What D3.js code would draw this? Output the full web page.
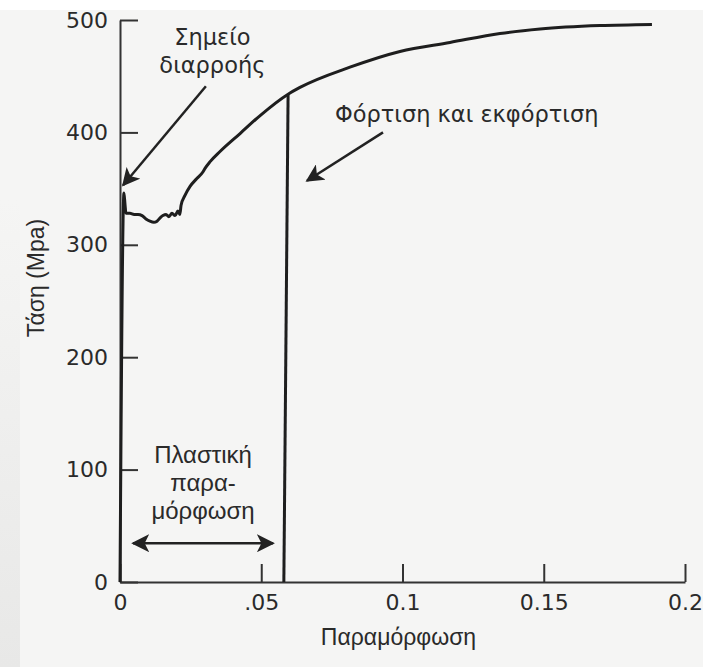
<!DOCTYPE html>
<meta charset="utf-8">
<style>
body {
  margin: 0;
  background-color: #f5f5f4;
}
svg text {
  font-family: "Liberation Sans", Arial, sans-serif;
  fill: #2a2a2a;
}
svg text.wide {
  font-family: "DejaVu Sans", sans-serif;
}
</style>
<body>
<div id="chart"></div>
<script src="https://cdn.jsdelivr.net/npm/d3@7"></script>
<script>

// stress-strain curve
var strain = [0, 0.0014, 0.0018, 0.0021, 0.0035, 0.005, 0.0064, 0.0078, 0.0092, 0.0106, 0.012,
              0.0131, 0.0142, 0.0152, 0.0163, 0.0173, 0.0184, 0.0195, 0.0205, 0.0212, 0.0216,
              0.023, 0.0248, 0.0272, 0.0294, 0.0301, 0.0319, 0.0354, 0.0425, 0.0496, 0.0595,
              0.0637, 0.0814, 0.0991, 0.1168, 0.1345, 0.1487, 0.1699, 0.1883];
var stress = [0, 346, 335, 328, 328, 327, 327, 326, 323, 321, 320,
              321, 324, 326, 327, 325, 328, 326, 330, 327, 335,
              344, 352, 359, 365, 368, 374, 383, 399, 415, 434,
              440, 458, 472, 480, 488, 492, 495, 496];

// unloading line
var unloadStrain = [0.0595, 0.058];
var unloadStress = [434, 0];

var xTicks = [0, 0.05, 0.1, 0.15, 0.2];
var xTickLabels = ["0", ".05", "0.1", "0.15", "0.2"];
var yTicks = [0, 100, 200, 300, 400, 500];

var margin = {top: 20, right: 18, bottom: 85, left: 120},
    W = 703, H = 667,
    width = W - margin.left - margin.right,
    height = H - margin.top - margin.bottom;

var svg = d3.select("#chart").append("svg")
    .attr("width", W)
    .attr("height", H);

var defs = svg.append("defs");

// scanned page look: white strip on top, slightly darker left edge
var grad = defs.append("linearGradient").attr("id", "edge")
    .attr("x1", 0).attr("y1", 0).attr("x2", 0).attr("y2", 1);
grad.append("stop").attr("offset", "0%").attr("stop-color", "#f5f5f4");
grad.append("stop").attr("offset", "100%").attr("stop-color", "#e8e8e7");

svg.append("rect").attr("width", W).attr("height", H).attr("fill", "#f5f5f4");
svg.append("rect").attr("width", W).attr("height", 10).attr("fill", "#ffffff");
svg.append("rect").attr("y", 200).attr("width", 20).attr("height", H - 200).attr("fill", "url(#edge)");

defs.append("marker")
    .attr("id", "head")
    .attr("viewBox", "0 0 10 10")
    .attr("refX", 9).attr("refY", 5)
    .attr("markerWidth", 18).attr("markerHeight", 18)
    .attr("markerUnits", "userSpaceOnUse")
    .attr("orient", "auto-start-reverse")
  .append("path")
    .attr("d", "M0,0 L10,5 L0,10 L2.5,5 Z")
    .attr("fill", "#222");

var g = svg.append("g").attr("transform", "translate(" + margin.left + "," + margin.top + ")");

var x = d3.scaleLinear().domain([0, 0.2]).range([0, width]);
var y = d3.scaleLinear().domain([0, 500]).range([height, 0]);

var xAxis = d3.axisBottom(x)
    .tickValues(xTicks)
    .tickFormat(function(d, i){ return xTickLabels[i]; })
    .tickSizeInner(-18).tickSizeOuter(0).tickPadding(12);
var yAxis = d3.axisLeft(y)
    .tickValues(yTicks)
    .tickSizeInner(-18).tickSizeOuter(0).tickPadding(12);

var gx = g.append("g").attr("transform", "translate(0," + height + ")").call(xAxis);
var gy = g.append("g").call(yAxis);
[gx, gy].forEach(function(a){
  a.attr("font-family", null);
  a.selectAll("path, line").attr("stroke", "#333").attr("stroke-width", 2);
  a.selectAll("text").attr("class", "wide").style("font-size", "22px").attr("fill", "#2a2a2a");
});
gx.selectAll("text").attr("dy", "0.72em");

var line = d3.line()
    .curve(d3.curveMonotoneX)
    .x(function(d){ return x(d[0]); })
    .y(function(d){ return y(d[1]); });

g.append("path")
    .datum(d3.zip(strain, stress))
    .attr("d", line)
    .attr("fill", "none")
    .attr("stroke", "#1e1e1e")
    .attr("stroke-width", 3)
    .attr("stroke-linejoin", "round");

g.append("path")
    .datum(d3.zip(unloadStrain, unloadStress))
    .attr("d", d3.line().x(function(d){ return x(d[0]); }).y(function(d){ return y(d[1]); }))
    .attr("fill", "none")
    .attr("stroke", "#1e1e1e")
    .attr("stroke-width", 3);

// annotation arrows
function arrow(x1, y1, x2, y2, both){
  var l = g.append("line")
    .attr("x1", x(x1)).attr("y1", y(y1))
    .attr("x2", x(x2)).attr("y2", y(y2))
    .attr("stroke", "#222").attr("stroke-width", 2.5)
    .attr("marker-end", "url(#head)");
  if(both){ l.attr("marker-start", "url(#head)"); }
}
arrow(0.0304, 441, 0.0011, 353);
arrow(0.0931, 400, 0.0662, 357);
arrow(0.0046, 34.5, 0.0542, 34.5, true);

function label(lines, cx, by, anchor, lh, size, cls){
  var t = g.append("text")
    .attr("class", cls)
    .attr("text-anchor", anchor)
    .style("font-size", size + "px");
  lines.forEach(function(s, i){
    t.append("tspan").attr("x", x(cx)).attr("y", y(by) + i * lh).text(s);
  });
}
label(["Σημείο", "διαρροής"], 0.0327, 478, "middle", 28, 22.5, "wide");
label(["Φόρτιση και εκφόρτιση"], 0.0761, 409, "start", 0, 22.5, "wide");
label(["Πλαστική", "παρα-", "μόρφωση"], 0.0294, 106, "middle", 28, 24, "");

g.append("text")
    .attr("x", width / 2 - 4).attr("y", height + 63)
    .attr("text-anchor", "middle")
    .style("font-size", "23px")
    .text("Παραμόρφωση");

g.append("text")
    .attr("transform", "translate(" + (44 - margin.left) + "," + (278 - margin.top) + ") rotate(-90)")
    .attr("text-anchor", "middle")
    .style("font-size", "23px")
    .text("Τάση (Mpa)");

</script>
